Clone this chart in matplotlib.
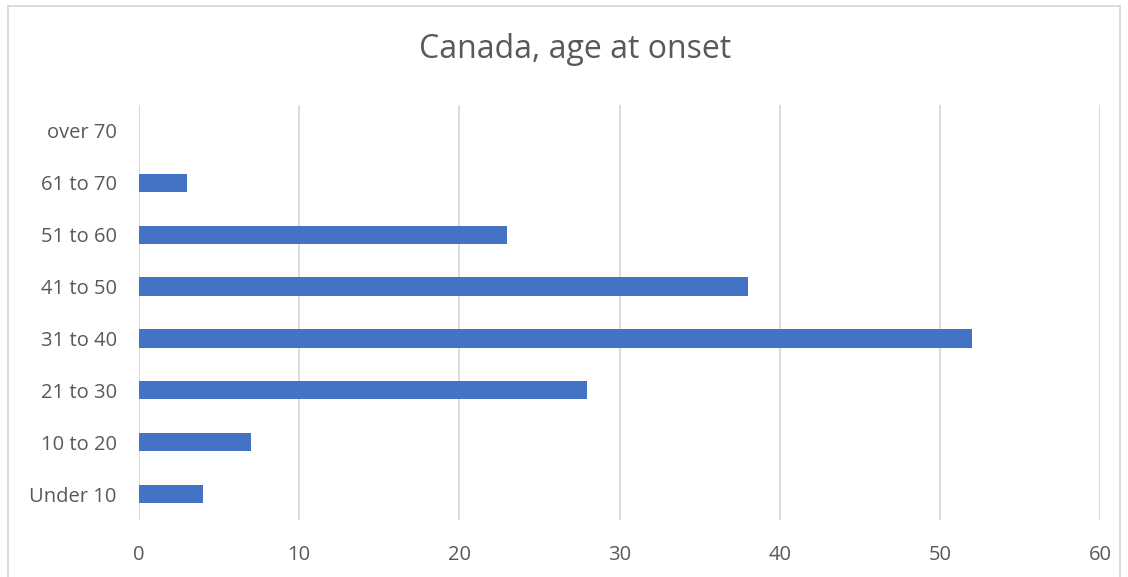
import matplotlib
matplotlib.use("Agg")
import matplotlib.pyplot as plt
from matplotlib.patches import Rectangle

categories = ["Under 10", "10 to 20", "21 to 30", "31 to 40", "41 to 50", "51 to 60", "61 to 70", "over 70"]
values = [4, 7, 28, 52, 38, 23, 3, 0]
xticks = [0, 10, 20, 30, 40, 50, 60]
title = "Canada, age at onset"

plt.rcParams['font.family'] = ['Open Sans', 'DejaVu Sans']
text_color = "#595959"
grid_color = "#D9D9D9"
bar_color = "#4472C4"

fig = plt.figure(figsize=(11.28, 5.77), dpi=100)
ax = fig.add_axes([139/1128, 1 - 520/577, (1100 - 139)/1128, (520 - 105)/577])

y = list(range(len(categories)))
ax.barh(y, values, height=0.35, color=bar_color, zorder=3)
ax.set_ylim(-0.5, len(categories) - 0.5)
ax.set_xlim(0, 60)
ax.set_xticks(xticks)
ax.set_xticklabels([str(t) for t in xticks])
ax.set_yticks(y)
ax.set_yticklabels(categories)
ax.tick_params(axis='both', length=0, colors=text_color, labelsize=14.5)
ax.tick_params(axis='y', pad=16)
ax.tick_params(axis='x', pad=18)
for s in ax.spines.values():
    s.set_visible(False)
ax.grid(axis='x', color=grid_color, linewidth=1.3, zorder=0)
ax.axvline(0, color=grid_color, linewidth=1.3, zorder=1)

fig.text(575/1128, 1 - 58/577, title, ha='center', va='baseline', fontsize=23, color=text_color)
fig.patches.append(Rectangle((8/1128, -0.01), (1120 - 8)/1128, 1 - 6/577 + 0.01,
                             transform=fig.transFigure, fill=False, edgecolor=grid_color, linewidth=1.3))

fig.savefig("out.png", dpi=100)
